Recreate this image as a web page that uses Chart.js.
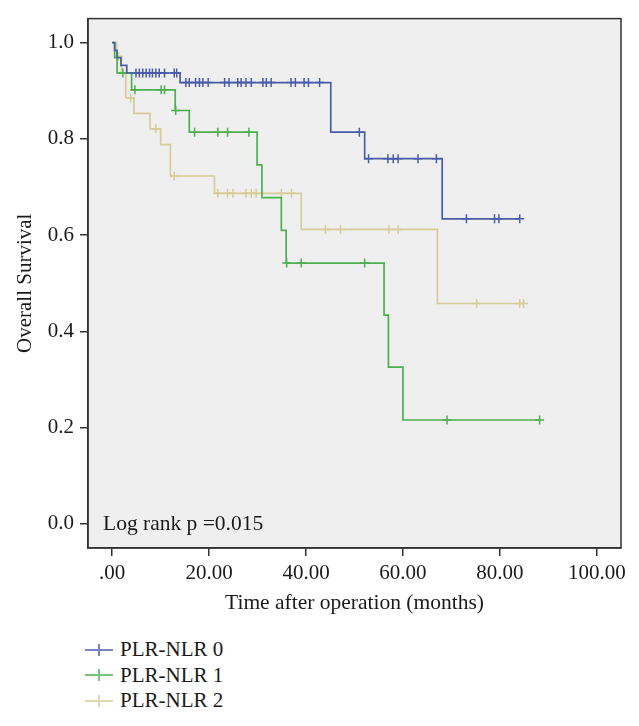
<!DOCTYPE html>
<html>
<head>
<meta charset="utf-8">
<script src="https://cdn.jsdelivr.net/npm/chart.js@4.4.1/dist/chart.umd.min.js"></script>
<style>
  html, body { margin: 0; padding: 0; background: #fff; }
  #wrap { position: relative; width: 639px; height: 726px; }
  #box { position: absolute; left: 0; top: 0; width: 639px; height: 620px; }
  #legend { position: absolute; left: 85px; top: 637px; font-family: 'Liberation Serif', serif; font-size: 21px; color: #1a1a1a; }
  .row { display: flex; align-items: center; height: 25.5px; white-space: nowrap; }
  .row svg { margin-right: 7px; }
</style>
</head>
<body>
<div id="wrap">
  <div id="box"><canvas id="km"></canvas></div>
  <div id="legend"></div>
</div>
<script>
// axis ticks
const xTickValues = [0, 20, 40, 60, 80, 100]
const xTickLabels = ['.00', '20.00', '40.00', '60.00', '80.00', '100.00']
const yTickValues = [0, 0.2, 0.4, 0.6, 0.8, 1.0]
const yTickLabels = ['0.0', '0.2', '0.4', '0.6', '0.8', '1.0']

const groupNames = ['PLR-NLR 0', 'PLR-NLR 1', 'PLR-NLR 2']
const groupColors = ['#4a5ca9', '#4cb050', '#d6cc98']

// PLR-NLR 0 — step times (months) and survival after each step
const g0Times = [0, 0.5, 1.0, 1.8, 3.0, 14.0, 45.1, 52.1, 68.1, 84.1]
const g0Surv = [1.0, 0.984, 0.969, 0.953, 0.937, 0.917, 0.814, 0.759, 0.634, 0.634]
const g0Censored = [4.9, 5.6, 6.3, 7.0, 7.7, 8.3, 9.0, 9.7, 10.8, 12.8, 13.3, 15.2, 15.9, 17.2, 18.0, 18.7, 19.8,
  23.2, 24.1, 25.9, 26.6, 27.6, 28.7, 31.1, 31.8, 32.8, 36.9, 37.8, 39.6, 40.5, 42.8, 51.0, 52.9, 56.9, 58.0, 59.0,
  63.1, 66.9, 73.1, 78.9, 79.8, 84.1]

// PLR-NLR 1
const g1Times = [0, 0.5, 1.0, 4.0, 13.0, 15.9, 29.9, 30.9, 34.9, 35.9, 56.1, 57.0, 60.0, 88.2]
const g1Surv = [1.0, 0.969, 0.937, 0.902, 0.859, 0.814, 0.746, 0.678, 0.610, 0.542, 0.434, 0.326, 0.216, 0.216]
const g1Censored = [2.2, 4.7, 10.1, 10.8, 13.1, 17.0, 21.8, 23.8, 28.2, 36.0, 39.0, 52.1, 69.1, 88.2]

// PLR-NLR 2
const g2Times = [0, 0.9, 1.9, 2.8, 4.5, 7.8, 10.0, 12.0, 21.1, 39.0, 67.1, 85.0]
const g2Surv = [1.0, 0.971, 0.936, 0.885, 0.853, 0.821, 0.788, 0.723, 0.687, 0.612, 0.458, 0.458]
const g2Censored = [1.3, 3.8, 9.0, 12.8, 21.8, 23.8, 24.9, 27.6, 28.7, 29.7, 34.9, 37.0, 44.0, 47.1, 57.1, 59.0,
  75.2, 84.1, 84.9]

const FONT = "'Liberation Serif', 'DejaVu Serif', serif"
const INK = '#1a1a1a'
const FRAME = '#333333'

// survival level at time t (step function)
function survAt(times, surv, t) {
  let s = surv[0]
  for (let i = 0; i < times.length; i++) {
    if (times[i] <= t) s = surv[i]
  }
  return s
}

function curveDataset(times, surv, color) {
  return {
    type: 'line',
    data: times.map((t, i) => ({ x: t, y: surv[i] })),
    borderColor: color,
    borderWidth: 1.7,
    pointRadius: 0,
    stepped: 'before',
    fill: false
  }
}

function censorDataset(times, surv, censored, color) {
  return {
    type: 'scatter',
    data: censored.map(t => ({ x: t, y: survAt(times, surv, t) })),
    borderColor: color,
    backgroundColor: color,
    pointStyle: 'cross',
    pointRadius: 4.5,
    pointBorderWidth: 1.5,
    showLine: false
  }
}

const groups = [
  [g0Times, g0Surv, g0Censored],
  [g1Times, g1Surv, g1Censored],
  [g2Times, g2Surv, g2Censored]
]

const datasets = []
groups.forEach(([t, s, c], i) => {
  datasets.push(curveDataset(t, s, groupColors[i]))
  datasets.push(censorDataset(t, s, c, groupColors[i]))
})

// plot background, frame, log-rank note
const framePlugin = {
  id: 'frame',
  beforeDraw(chart) {
    const { ctx, chartArea: a } = chart
    ctx.save()
    ctx.fillStyle = '#efefef'
    ctx.fillRect(a.left, a.top, a.width, a.height)
    ctx.restore()
  },
  afterDraw(chart) {
    const { ctx, chartArea: a, scales } = chart
    ctx.save()
    ctx.strokeStyle = FRAME
    ctx.lineWidth = 1.5
    ctx.strokeRect(a.left, a.top, a.width, a.height)
    ctx.fillStyle = INK
    ctx.font = '21.5px ' + FONT
    ctx.textBaseline = 'middle'
    ctx.fillText('Log rank p =0.015', a.left + 15, scales.y.getPixelForValue(0))
    ctx.restore()
  }
}

new Chart(document.getElementById('km').getContext('2d'), {
  data: { datasets },
  options: {
    responsive: true,
    maintainAspectRatio: false,
    animation: false,
    layout: { padding: { top: 15, right: 18, left: 0, bottom: 0 } },
    plugins: {
      legend: { display: false },
      tooltip: { enabled: false }
    },
    scales: {
      x: {
        type: 'linear',
        min: -5,
        max: 105,
        afterBuildTicks: s => { s.ticks = xTickValues.map(v => ({ value: v })) },
        afterFit: s => { s.height = 72 },
        ticks: {
          callback: (v, i) => xTickLabels[i],
          font: { family: FONT, size: 21 },
          color: INK,
          padding: 5,
          maxRotation: 0,
          autoSkip: false
        },
        grid: { drawOnChartArea: false, tickLength: 8, color: FRAME, lineWidth: 1.5 },
        border: { color: FRAME, width: 1.5 },
        title: {
          display: true,
          text: 'Time after operation (months)',
          font: { family: FONT, size: 21.5 },
          color: INK,
          padding: { top: 0, bottom: 4 }
        }
      },
      y: {
        type: 'linear',
        min: -0.05,
        max: 1.05,
        afterBuildTicks: s => { s.ticks = yTickValues.map(v => ({ value: v })) },
        afterFit: s => { s.width = 88 },
        ticks: {
          callback: (v, i) => yTickLabels[i],
          font: { family: FONT, size: 21 },
          color: INK,
          padding: 6,
          autoSkip: false
        },
        grid: { drawOnChartArea: false, tickLength: 8, color: FRAME, lineWidth: 1.5 },
        border: { color: FRAME, width: 1.5 },
        title: {
          display: true,
          text: 'Overall Survival',
          font: { family: FONT, size: 21 },
          color: INK,
          padding: { top: 13, bottom: 0 }
        }
      }
    }
  },
  plugins: [framePlugin]
})

// legend: line with a censor cross, one row per group
const legend = document.getElementById('legend')
groupNames.forEach((name, i) => {
  const row = document.createElement('div')
  row.className = 'row'
  row.innerHTML =
    '<svg width="28" height="16" style="opacity:0.75">' +
    '<line x1="0" y1="8" x2="28" y2="8" stroke="' + groupColors[i] + '" stroke-width="2"/>' +
    '<line x1="14" y1="2" x2="14" y2="14" stroke="' + groupColors[i] + '" stroke-width="2"/>' +
    '</svg><span>' + name + '</span>'
  legend.appendChild(row)
})
</script>
</body>
</html>
